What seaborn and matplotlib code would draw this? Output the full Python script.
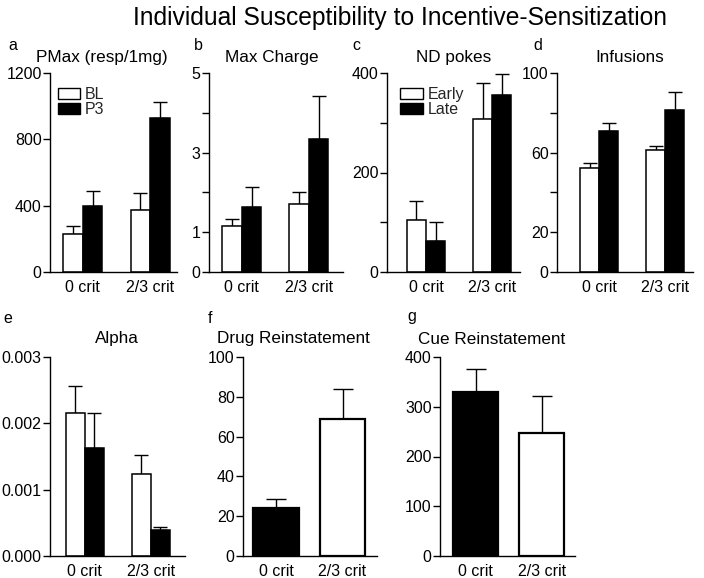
import numpy as np
import pandas as pd
import matplotlib
matplotlib.use("Agg")
import matplotlib.pyplot as plt
from matplotlib.patches import Patch
import seaborn as sns

# ---------------- data ----------------
groups = ["0 crit", "2/3 crit"]

# a  PMax
pmax_bl = [230, 375]
pmax_bl_err = [50, 100]
pmax_p3 = [400, 927]
pmax_p3_err = [86, 96]
# b  Max Charge
charge_bl = [1.15, 1.71]
charge_bl_err = [0.17, 0.29]
charge_p3 = [1.64, 3.33]
charge_p3_err = [0.50, 1.10]
# c  ND pokes
nd_early = [104, 308]
nd_early_err = [38, 72]
nd_late = [62, 356]
nd_late_err = [38, 42]
# d  Infusions
inf_bl = [52.3, 61.1]
inf_bl_err = [2.5, 2.4]
inf_p3 = [70.7, 81.6]
inf_p3_err = [4.2, 9.0]
# e  Alpha
alpha_bl = [0.00216, 0.00124]
alpha_bl_err = [0.00040, 0.00028]
alpha_p3 = [0.00163, 0.000386]
alpha_p3_err = [0.00052, 0.000054]
# f  Drug reinstatement
drug = [23.9, 68.7]
drug_err = [4.9, 15.2]
# g  Cue reinstatement
cue = [329.8, 248.0]
cue_err = [46.8, 74.0]

# tick labels
a_ticks = [0, 400, 800, 1200]
a_labels = ["0", "400", "800", "1200"]
b_ticks = [0, 1, 2, 3, 4, 5]
b_labels = ["0", "1", "", "3", "", "5"]
c_ticks = [0, 100, 200, 300, 400]
c_labels = ["0", "", "200", "", "400"]
d_ticks = [0, 20, 40, 60, 80, 100]
d_labels = ["0", "20", "", "60", "", "100"]
e_ticks = [0, 0.001, 0.002, 0.003]
e_labels = ["0.000", "0.001", "0.002", "0.003"]
f_ticks = [0, 20, 40, 60, 80, 100]
f_labels = ["0", "20", "40", "60", "80", "100"]
g_ticks = [0, 100, 200, 300, 400]
g_labels = ["0", "100", "200", "300", "400"]

# ---------------- style ----------------
sns.set_theme(style="ticks")
plt.rcParams["font.family"] = ["Liberation Sans", "DejaVu Sans"]
plt.rcParams["axes.linewidth"] = 1.0
plt.rcParams["axes.edgecolor"] = "black"

W, H = 704, 578
fig = plt.figure(figsize=(W / 100, H / 100), dpi=100)
fig.patch.set_facecolor("white")

TICK_FS = 11.5
TITLE_FS = 12.3


def rect(x0, x1, ytop, ybot):
    return [x0 / W, 1 - ybot / H, (x1 - x0) / W, (ybot - ytop) / H]


def style_axis(ax, ylim, ticks, labels, xlim):
    ax.set_ylim(*ylim)
    ax.set_xlim(*xlim)
    ax.set_yticks(ticks)
    ax.set_yticklabels(labels)
    ax.set_xlabel("")
    ax.set_ylabel("")
    sns.despine(ax=ax)
    ax.tick_params(axis="y", length=5, width=1.0, pad=1, labelsize=TICK_FS, colors="black")
    ax.tick_params(axis="x", length=0, pad=6, labelsize=TICK_FS, colors="black")
    ax.set_facecolor("white")


def add_err(ax, container, values, errs, capsize):
    xs = [p.get_x() + p.get_width() / 2 for p in container.patches]
    ax.errorbar(xs, values, yerr=[np.zeros(len(errs)), errs], fmt="none",
                ecolor="black", elinewidth=1.0, capsize=capsize, capthick=1.0, zorder=1)


def grouped(ax, v1, e1, v2, e2, names, capsize=4.7, width=0.58):
    df = pd.DataFrame({
        "group": groups * 2,
        "cond": [names[0]] * 2 + [names[1]] * 2,
        "value": list(v1) + list(v2),
    })
    sns.barplot(data=df, x="group", y="value", hue="cond", order=groups,
                hue_order=names, palette=["white", "black"], edgecolor="black",
                linewidth=1.1, width=width, errorbar=None, legend=False,
                ax=ax, zorder=2, saturation=1)
    add_err(ax, ax.containers[0], v1, e1, capsize)
    add_err(ax, ax.containers[1], v2, e2, capsize)


def single(ax, vals, errs, colors, capsize=7.0, width=0.69):
    df = pd.DataFrame({"group": groups, "value": vals})
    sns.barplot(data=df, x="group", y="value", hue="group", order=groups,
                hue_order=groups, palette=colors, edgecolor="black",
                linewidth=1.6, width=width, errorbar=None, legend=False,
                ax=ax, zorder=2, saturation=1)
    for cont, v, e in zip(ax.containers, vals, errs):
        add_err(ax, cont, [v], [e], capsize)


def legend(ax, names, x, y):
    handles = [Patch(facecolor="white", edgecolor="black", linewidth=1.0),
               Patch(facecolor="black", edgecolor="black", linewidth=1.0)]
    ax.legend(handles, names, loc="upper left", bbox_to_anchor=(x, y),
              frameon=False, fontsize=TICK_FS, handlelength=1.4, handleheight=0.65,
              handletextpad=0.3, labelspacing=0.0, borderpad=0, borderaxespad=0)


# a
ax_a = fig.add_axes(rect(50, 177, 73, 272))
grouped(ax_a, pmax_bl, pmax_bl_err, pmax_p3, pmax_p3_err, ["BL", "P3"])
style_axis(ax_a, (0, 1200), a_ticks, a_labels, (-0.49, 1.40))
legend(ax_a, ["BL", "P3"], 0.06, 0.93)

# b
ax_b = fig.add_axes(rect(209, 343, 73, 272))
grouped(ax_b, charge_bl, charge_bl_err, charge_p3, charge_p3_err, ["BL", "P3"])
style_axis(ax_b, (0, 5), b_ticks, b_labels, (-0.49, 1.51))

# c
ax_c = fig.add_axes(rect(387, 520, 73, 272))
grouped(ax_c, nd_early, nd_early_err, nd_late, nd_late_err, ["Early", "Late"])
style_axis(ax_c, (0, 400), c_ticks, c_labels, (-0.59, 1.42))
legend(ax_c, ["Early", "Late"], 0.10, 0.93)

# d
ax_d = fig.add_axes(rect(557, 693, 73, 272))
grouped(ax_d, inf_bl, inf_bl_err, inf_p3, inf_p3_err, ["BL", "P3"])
style_axis(ax_d, (0, 100), d_ticks, d_labels, (-0.64, 1.42))

# e
ax_e = fig.add_axes(rect(50, 185, 357, 556))
grouped(ax_e, alpha_bl, alpha_bl_err, alpha_p3, alpha_p3_err, ["BL", "P3"])
style_axis(ax_e, (0, 0.003), e_ticks, e_labels, (-0.53, 1.52))

# f
ax_f = fig.add_axes(rect(243, 377, 357, 556))
single(ax_f, drug, drug_err, ["black", "white"])
style_axis(ax_f, (0, 100), f_ticks, f_labels, (-0.50, 1.52))

# g
ax_g = fig.add_axes(rect(440, 575, 357, 556))
single(ax_g, cue, cue_err, ["black", "white"], width=0.68)
style_axis(ax_g, (0, 400), g_ticks, g_labels, (-0.54, 1.50))


def ftext(x, y, s, size, ha="center"):
    fig.text(x / W, 1 - y / H, s, ha=ha, va="baseline", fontsize=size, color="black")


ftext(400, 25, "Individual Susceptibility to Incentive-Sensitization", 17.7)

ftext(102, 62, "PMax (resp/1mg)", TITLE_FS)
ftext(272, 62, "Max Charge", TITLE_FS)
ftext(454, 62, "ND pokes", TITLE_FS)
ftext(630, 62, "Infusions", TITLE_FS)
ftext(117, 343, "Alpha", TITLE_FS)
ftext(293, 343, "Drug Reinstatement", TITLE_FS)
ftext(492, 344, "Cue Reinstatement", TITLE_FS)

ftext(8, 50, "a", 11.5, ha="left")
ftext(194, 50, "b", 11.5, ha="left")
ftext(352, 50, "c", 11.5, ha="left")
ftext(533, 50, "d", 11.5, ha="left")
ftext(3, 323, "e", 11.5, ha="left")
ftext(208, 323, "f", 11.5, ha="left")
ftext(407, 321, "g", 11.5, ha="left")

fig.savefig("out.png", dpi=100, facecolor="white")
